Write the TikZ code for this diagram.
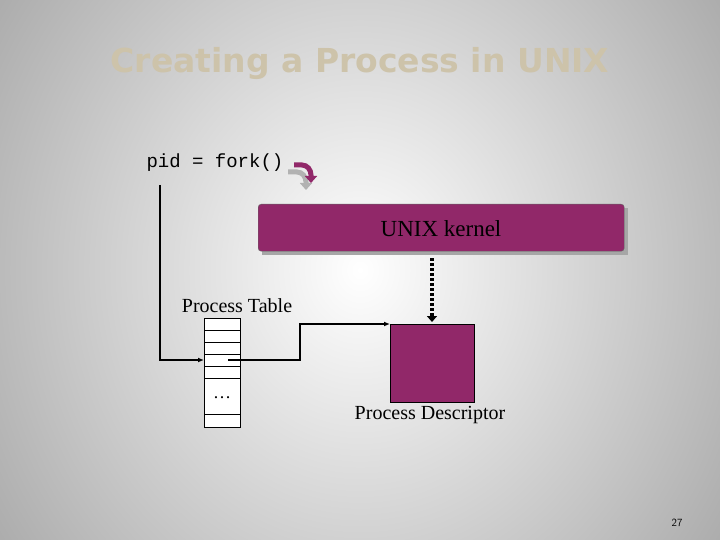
\documentclass[tikz,border=0pt]{standalone}
\usepackage{fontspec}
\setmainfont{Liberation Serif}
\newfontfamily\ttf{Liberation Mono}
\newfontfamily\sanf{DejaVu Sans}
\usetikzlibrary{arrows.meta}
\definecolor{plum}{RGB}{145,40,105}
\definecolor{titlec}{RGB}{205,195,170}
\begin{document}
\begin{tikzpicture}[x=1pt,y=-1pt,
  ln/.style={line width=1.3pt,-{Latex[length=6pt,width=5pt]}},
  cell/.style={draw,line width=0.6pt}]
\useasboundingbox (0,0) rectangle (720,540);
\shade[inner color=white,outer color=black!38] (-150,-300) rectangle (870,840);
\node (tt) [font=\sanf\bfseries\fontsize{33}{33}\selectfont,text=titlec] at (360,64) {Creating a Process in UNIX};
\node (fork) [font=\ttf\fontsize{19}{19}\selectfont,anchor=west] at (143,163) {pid = fork()};
% fork arrow shadow and arrow
\draw[black!30,line width=5pt,-{Triangle[length=7pt,width=12pt]}] (288,172) -- (297,172) to[out=0,in=90] (306,182) -- (306,190);
\draw[plum,line width=5pt,-{Triangle[length=7pt,width=12pt]}] (294,165) -- (302,165) to[out=0,in=90] (311,175) -- (311,183);
\fill[black!35] (262,208) rectangle (628,255);
\node (k) [draw=black!60,fill=plum,rounded corners=3pt,minimum width=366pt,minimum height=47pt,anchor=north west,inner sep=0pt] at (258,204) {};
\node[font=\fontsize{23}{23}\selectfont] at (441,229) {UNIX kernel};
\node (pt) [font=\fontsize{20}{20}\selectfont] at (237,306) {Process Table};
\draw[cell,fill=white] (204,318) rectangle (240,427);
\foreach \y in {330,342,354,366,378,414} \draw[cell] (204,\y) -- (240,\y);
\node[font=\fontsize{18}{18}\selectfont] at (222,398) {\dots};
\coordinate (entry) at (204,360);
\coordinate (src) at (228,360);
\node (pd) [draw=black,fill=plum,minimum width=84pt,minimum height=78pt,anchor=north west,inner sep=0pt] at (390,324) {};
\node [font=\fontsize{20}{20}\selectfont] at (430,415) {Process Descriptor};
\draw[ln] (160,185) |- (entry);
\draw[ln] (src) -- (300,360) |- (pd.north west);
\draw[line width=4pt,dash pattern=on 3pt off 2pt,-{Triangle[length=6pt,width=10pt]}] (432,258) -- (432,322);
\node[font=\sffamily\fontsize{11}{11}\selectfont] at (677,523) {27};
\end{tikzpicture}
\end{document}
